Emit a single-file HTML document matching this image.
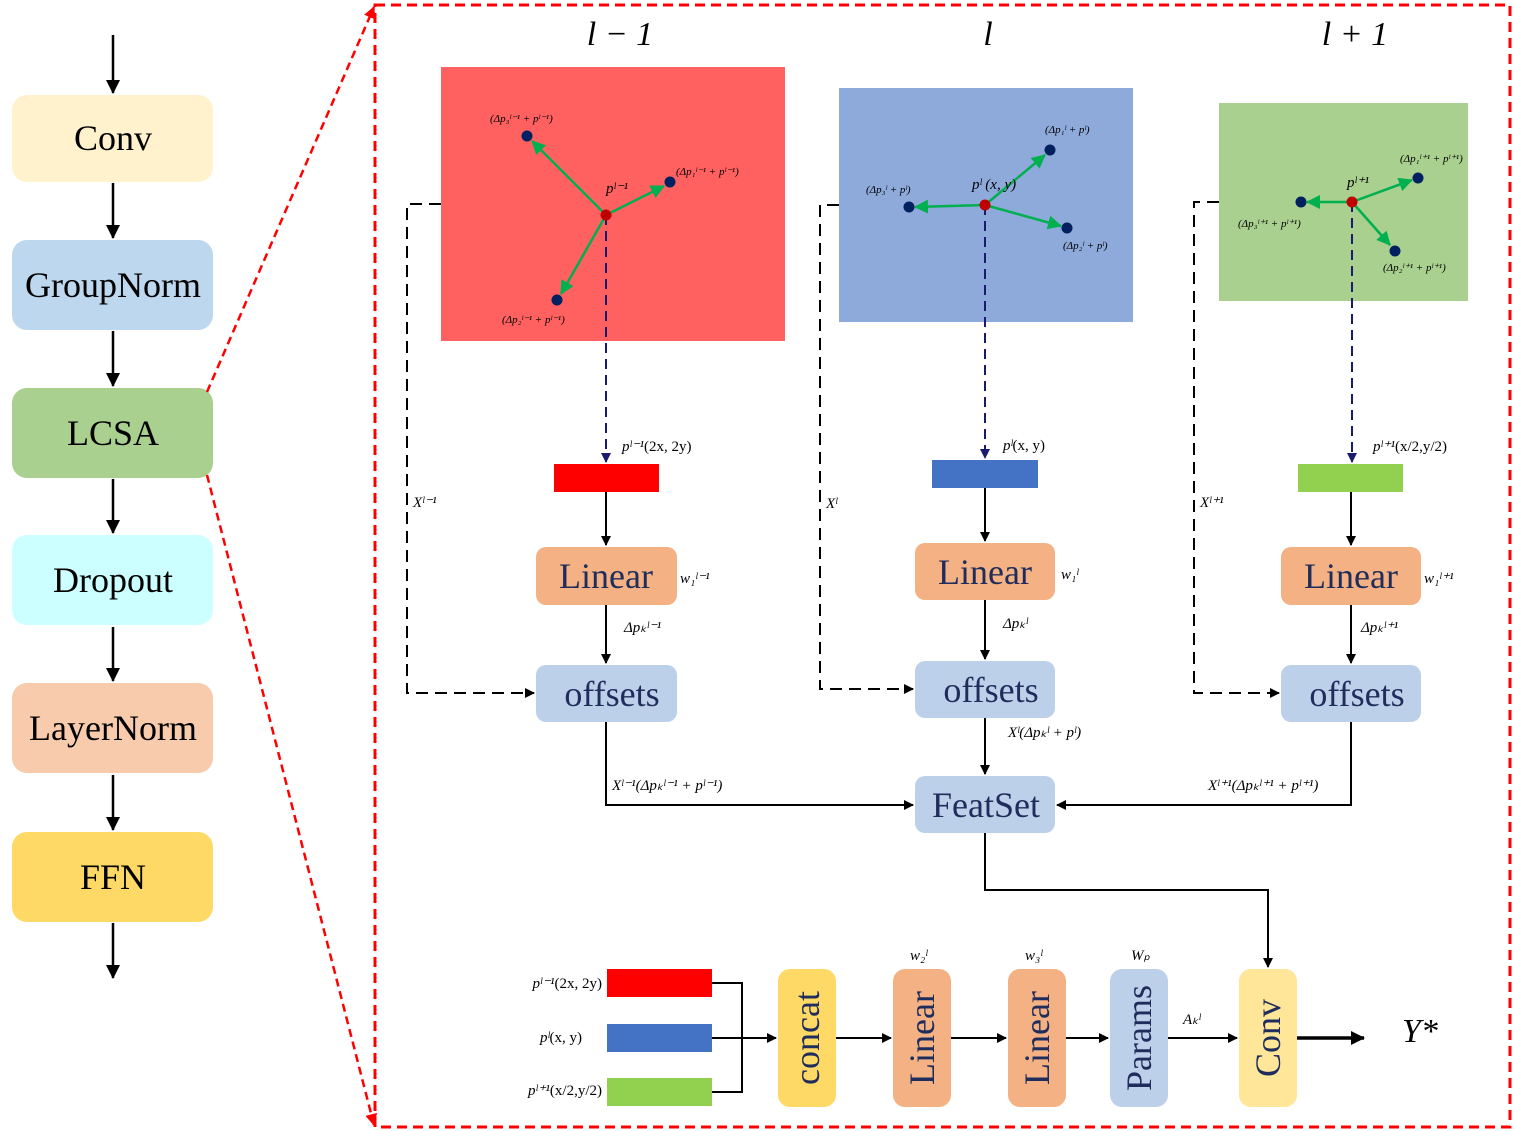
<!DOCTYPE html>
<html><head><meta charset="utf-8"><style>
body{margin:0;background:#fff}
svg{display:block}
text{font-family:"Liberation Serif",serif}
.bt{fill:#1f2d5c;font-size:36px;text-anchor:middle}
.lt{fill:#000;font-size:36px;text-anchor:middle}
.s{font-size:11px;font-style:italic;fill:#000}
.m{font-size:15px;font-style:italic;fill:#000}
</style></head><body>
<svg width="1515" height="1131" viewBox="0 0 1515 1131" xmlns="http://www.w3.org/2000/svg">
<defs>
<marker id="a" markerWidth="10" markerHeight="10" refX="9" refY="5" orient="auto" markerUnits="userSpaceOnUse"><path d="M0,0 L10,5 L0,10z" fill="#000"/></marker>
<marker id="ab" markerWidth="14" markerHeight="14" refX="13" refY="7" orient="auto" markerUnits="userSpaceOnUse"><path d="M0,0 L14,7 L0,14z" fill="#000"/></marker>
<marker id="an" markerWidth="10" markerHeight="10" refX="9" refY="5" orient="auto" markerUnits="userSpaceOnUse"><path d="M0,0 L10,5 L0,10z" fill="#1a1a6e"/></marker>
<marker id="ar" markerWidth="12" markerHeight="12" refX="11" refY="6" orient="auto" markerUnits="userSpaceOnUse"><path d="M0,0 L12,6 L0,12z" fill="#ff0000"/></marker>
<marker id="ag" markerWidth="14" markerHeight="14" refX="13" refY="7" orient="auto" markerUnits="userSpaceOnUse"><path d="M0,0 L14,7 L0,14z" fill="#00b050"/></marker>
</defs>
<!-- left column -->
<g stroke="#000" stroke-width="2.5" marker-end="url(#ab)">
<line x1="113" y1="35" x2="113" y2="93"/><line x1="113" y1="183" x2="113" y2="238"/><line x1="113" y1="331" x2="113" y2="386"/><line x1="113" y1="479" x2="113" y2="533"/><line x1="113" y1="627" x2="113" y2="681"/><line x1="113" y1="775" x2="113" y2="830"/><line x1="113" y1="923" x2="113" y2="978"/>
</g>
<rect x="12" y="95" width="201" height="87" rx="15" fill="#fff2cc"/>
<rect x="12" y="240" width="201" height="90" rx="15" fill="#bdd7ee"/>
<rect x="12" y="388" width="201" height="90" rx="15" fill="#a9d08e"/>
<rect x="12" y="535" width="201" height="90" rx="15" fill="#ccffff"/>
<rect x="12" y="683" width="201" height="90" rx="15" fill="#f8cbad"/>
<rect x="12" y="832" width="201" height="90" rx="15" fill="#ffd966"/>
<text class="lt" x="113" y="150">Conv</text>
<text class="lt" x="113" y="297">GroupNorm</text>
<text class="lt" x="113" y="445">LCSA</text>
<text class="lt" x="113" y="592">Dropout</text>
<text class="lt" x="113" y="740">LayerNorm</text>
<text class="lt" x="113" y="889">FFN</text>
<!-- red dashed -->
<rect x="375" y="5" width="1135" height="1122" fill="none" stroke="#ff0000" stroke-width="3" stroke-dasharray="10,6"/>
<line x1="207" y1="392" x2="374" y2="7" stroke="#ff0000" stroke-width="2.5" stroke-dasharray="8,5" marker-end="url(#ar)"/>
<line x1="207" y1="475" x2="374" y2="1125" stroke="#ff0000" stroke-width="2.5" stroke-dasharray="8,5" marker-end="url(#ar)"/>
<!-- headings -->
<text x="620" y="45" font-size="34" font-style="italic" text-anchor="middle">l − 1</text>
<text x="988" y="45" font-size="34" font-style="italic" text-anchor="middle">l</text>
<text x="1355" y="45" font-size="34" font-style="italic" text-anchor="middle">l + 1</text>
<!-- top panels -->
<rect x="441" y="67" width="344" height="274" fill="#ff6161"/>
<rect x="839" y="88" width="294" height="234" fill="#8eaadb"/>
<rect x="1219" y="103" width="249" height="198" fill="#a9d08e"/>
<!-- dashed side lines -->
<g stroke="#000" stroke-width="2" fill="none" stroke-dasharray="12,7">
<polyline points="441,204 407,204 407,693 534,693" marker-end="url(#a)"/>
<polyline points="839,205 820,205 820,689 913,689" marker-end="url(#a)"/>
<polyline points="1219,202 1194,202 1194,693 1279,693" marker-end="url(#a)"/>
</g>
<!-- navy dashed down -->
<g stroke="#1a1a6e" stroke-width="2" stroke-dasharray="10,6" marker-end="url(#an)">
<line x1="606" y1="215" x2="606" y2="462"/><line x1="985" y1="205" x2="985" y2="458"/><line x1="1352" y1="202" x2="1352" y2="462"/>
</g>
<!-- green arrows -->
<g stroke="#00b050" stroke-width="2.5" marker-end="url(#ag)">
<line x1="606" y1="215" x2="532" y2="141"/><line x1="606" y1="215" x2="664" y2="186"/><line x1="606" y1="215" x2="561" y2="294"/>
<line x1="985" y1="205" x2="915" y2="207"/><line x1="985" y1="205" x2="1045" y2="155"/><line x1="985" y1="205" x2="1061" y2="226"/>
<line x1="1352" y1="202" x2="1307" y2="202"/><line x1="1352" y1="202" x2="1412" y2="180"/><line x1="1352" y1="202" x2="1390" y2="245"/>
</g>
<g fill="#002060">
<circle cx="527" cy="136" r="5.5"/><circle cx="670" cy="182" r="5.5"/><circle cx="557" cy="300" r="5.5"/>
<circle cx="909" cy="207" r="5.5"/><circle cx="1050" cy="150" r="5.5"/><circle cx="1067" cy="228" r="5.5"/>
<circle cx="1301" cy="202" r="5.5"/><circle cx="1418" cy="178" r="5.5"/><circle cx="1395" cy="251" r="5.5"/>
</g>
<g fill="#c00000"><circle cx="606" cy="215" r="5.5"/><circle cx="985" cy="205" r="5.5"/><circle cx="1352" cy="202" r="5.5"/></g>
<g class="s">
<text class="s" x="490" y="122">(Δp₃ˡ⁻¹ + pˡ⁻¹)</text>
<text class="s" x="676" y="175">(Δp₁ˡ⁻¹ + pˡ⁻¹)</text>
<text class="s" x="502" y="323">(Δp₂ˡ⁻¹ + pˡ⁻¹)</text>
<text class="m" x="606" y="193">pˡ⁻¹</text>
<text class="s" x="866" y="193">(Δp₃ˡ + pˡ)</text>
<text class="s" x="1045" y="133">(Δp₁ˡ + pˡ)</text>
<text class="s" x="1063" y="249">(Δp₂ˡ + pˡ)</text>
<text class="m" x="972" y="189">pˡ (x, y)</text>
<text class="s" x="1400" y="162">(Δp₁ˡ⁺¹ + pˡ⁺¹)</text>
<text class="s" x="1238" y="227">(Δp₃ˡ⁺¹ + pˡ⁺¹)</text>
<text class="s" x="1383" y="271">(Δp₂ˡ⁺¹ + pˡ⁺¹)</text>
<text class="m" x="1347" y="187">pˡ⁺¹</text>
</g>
<!-- mid labels -->
<text class="m" x="622" y="451">pˡ⁻¹<tspan font-style="normal">(2x, 2y)</tspan></text>
<text class="m" x="1003" y="450">pˡ<tspan font-style="normal">(x, y)</tspan></text>
<text class="m" x="1373" y="451">pˡ⁺¹<tspan font-style="normal">(x/2,y/2)</tspan></text>
<text class="m" x="413" y="507">Xˡ⁻¹</text>
<text class="m" x="826" y="508">Xˡ</text>
<text class="m" x="1200" y="507">Xˡ⁺¹</text>
<rect x="554" y="464" width="105" height="28" fill="#ff0000"/>
<rect x="932" y="460" width="106" height="28" fill="#4472c4"/>
<rect x="1298" y="464" width="105" height="28" fill="#92d050"/>
<g stroke="#000" stroke-width="2" fill="none" marker-end="url(#a)">
<line x1="606" y1="492" x2="606" y2="545"/><line x1="985" y1="488" x2="985" y2="541"/><line x1="1351" y1="492" x2="1351" y2="545"/>
<line x1="606" y1="605" x2="606" y2="663"/><line x1="985" y1="600" x2="985" y2="659"/><line x1="1351" y1="605" x2="1351" y2="663"/>
<polyline points="606,722 606,805 913,805"/><polyline points="1351,722 1351,805 1057,805"/>
<line x1="985" y1="718" x2="985" y2="774"/>
<polyline points="985,833 985,890 1268,890 1268,967"/>
</g>
<rect x="536" y="547" width="141" height="58" rx="10" fill="#f4b183"/>
<rect x="915" y="543" width="140" height="57" rx="10" fill="#f4b183"/>
<rect x="1281" y="547" width="140" height="58" rx="10" fill="#f4b183"/>
<rect x="536" y="665" width="141" height="57" rx="10" fill="#bdd0e9"/>
<rect x="915" y="661" width="140" height="57" rx="10" fill="#bdd0e9"/>
<rect x="1281" y="665" width="140" height="57" rx="10" fill="#bdd0e9"/>
<rect x="915" y="776" width="140" height="57" rx="10" fill="#bdd0e9"/>
<text class="bt" x="606" y="588">Linear</text><text class="bt" x="985" y="584">Linear</text><text class="bt" x="1351" y="588">Linear</text>
<text class="bt" x="612" y="706" font-size="32">offsets</text><text class="bt" x="991" y="702" font-size="32">offsets</text><text class="bt" x="1357" y="706" font-size="32">offsets</text>
<text class="bt" x="986" y="817" font-size="34">FeatSet</text>
<text class="m" x="680" y="583">w₁ˡ⁻¹</text><text class="m" x="1061" y="579">w₁ˡ</text><text class="m" x="1424" y="583">w₁ˡ⁺¹</text>
<text class="m" x="624" y="632">Δpₖˡ⁻¹</text><text class="m" x="1003" y="628">Δpₖˡ</text><text class="m" x="1361" y="632">Δpₖˡ⁺¹</text>
<text class="m" x="612" y="790">Xˡ⁻¹(Δpₖˡ⁻¹ + pˡ⁻¹)</text>
<text class="m" x="1008" y="737">Xˡ(Δpₖˡ + pˡ)</text>
<text class="m" x="1208" y="790">Xˡ⁺¹(Δpₖˡ⁺¹ + pˡ⁺¹)</text>
<!-- bottom row -->
<rect x="607" y="969" width="105" height="28" fill="#ff0000"/>
<rect x="607" y="1024" width="105" height="28" fill="#4472c4"/>
<rect x="607" y="1078" width="105" height="28" fill="#92d050"/>
<text class="m" x="602" y="988" text-anchor="end">pˡ⁻¹<tspan font-style="normal">(2x, 2y)</tspan></text>
<text class="m" x="582" y="1042" text-anchor="end">pˡ<tspan font-style="normal">(x, y)</tspan></text>
<text class="m" x="602" y="1095" text-anchor="end">pˡ⁺¹<tspan font-style="normal">(x/2,y/2)</tspan></text>
<g stroke="#000" stroke-width="2" fill="none">
<polyline points="712,983 742,983 742,1092 712,1092"/>
<line x1="712" y1="1038" x2="776" y2="1038" marker-end="url(#a)"/>
<line x1="836" y1="1038" x2="891" y2="1038" marker-end="url(#a)"/>
<line x1="951" y1="1038" x2="1006" y2="1038" marker-end="url(#a)"/>
<line x1="1066" y1="1038" x2="1108" y2="1038" marker-end="url(#a)"/>
<line x1="1168" y1="1038" x2="1237" y2="1038" marker-end="url(#a)"/>
<line x1="1297" y1="1038" x2="1364" y2="1038" stroke-width="3.5" marker-end="url(#ab)"/>
</g>
<rect x="778" y="969" width="58" height="138" rx="12" fill="#ffd966"/>
<rect x="893" y="969" width="58" height="138" rx="12" fill="#f4b183"/>
<rect x="1008" y="969" width="58" height="138" rx="12" fill="#f4b183"/>
<rect x="1110" y="969" width="58" height="138" rx="12" fill="#bdd0e9"/>
<rect x="1239" y="969" width="58" height="138" rx="12" fill="#ffe699"/>
<g class="bt" font-size="34">
<text class="bt" transform="translate(819,1038) rotate(-90)">concat</text>
<text class="bt" transform="translate(934,1038) rotate(-90)">Linear</text>
<text class="bt" transform="translate(1049,1038) rotate(-90)">Linear</text>
<text class="bt" transform="translate(1151,1038) rotate(-90)">Params</text>
<text class="bt" transform="translate(1280,1038) rotate(-90)">Conv</text>
</g>
<text class="m" x="910" y="960">w₂ˡ</text><text class="m" x="1025" y="960">w₃ˡ</text><text class="m" x="1131" y="960">Wₚ</text>
<text class="m" x="1183" y="1024">Aₖˡ</text>
<text x="1402" y="1042" font-size="34" font-style="italic">Y*</text>
</svg>
</body></html>
